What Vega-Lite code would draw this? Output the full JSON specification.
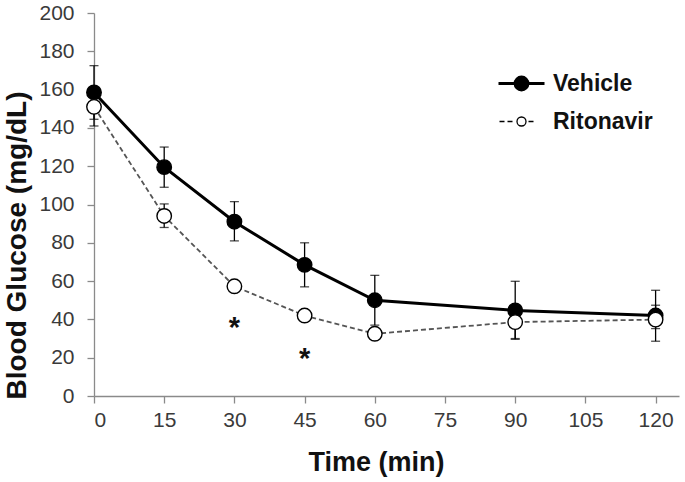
{
  "$schema": "https://vega.github.io/schema/vega-lite/v6.json",
  "width": 585,
  "height": 383,
  "autosize": {"type": "none"},
  "padding": {"left": 94, "top": 13, "right": 6, "bottom": 86},
  "background": "white",
  "config": {
    "view": {"stroke": null},
    "font": "Liberation Sans",
    "axis": {
      "grid": false,
      "domainColor": "#8a8a8a",
      "tickColor": "#8a8a8a",
      "domainWidth": 1.3,
      "tickWidth": 1.3,
      "tickSize": 7,
      "labelColor": "#3a3a3a",
      "labelFont": "Liberation Sans",
      "labelFontSize": 21,
      "labelOverlap": false,
      "titleFont": "Liberation Sans",
      "titleFontSize": 27,
      "titleFontWeight": "bold",
      "titleColor": "#111111"
    },
    "legend": {
      "labelFont": "Liberation Sans",
      "labelFontSize": 23,
      "labelFontWeight": "bold",
      "labelColor": "#111111"
    }
  },
  "datasets": {
    "glucose": [
      {"series": "Vehicle", "time": 0, "mean": 158.5, "lo": 144.5, "hi": 172.5},
      {"series": "Vehicle", "time": 15, "mean": 119.5, "lo": 109, "hi": 130},
      {"series": "Vehicle", "time": 30, "mean": 91, "lo": 81, "hi": 101.5},
      {"series": "Vehicle", "time": 45, "mean": 68.5, "lo": 57, "hi": 80},
      {"series": "Vehicle", "time": 60, "mean": 50, "lo": 37, "hi": 63},
      {"series": "Vehicle", "time": 90, "mean": 44.7, "lo": 29.6, "hi": 59.9},
      {"series": "Vehicle", "time": 120, "mean": 42, "lo": 28.6, "hi": 55.2},
      {"series": "Ritonavir", "time": 0, "mean": 151, "lo": 141, "hi": 161},
      {"series": "Ritonavir", "time": 15, "mean": 94, "lo": 88, "hi": 100.3},
      {"series": "Ritonavir", "time": 30, "mean": 57.3, "lo": 54.5, "hi": 60},
      {"series": "Ritonavir", "time": 45, "mean": 42, "lo": 39.5, "hi": 44.5},
      {"series": "Ritonavir", "time": 60, "mean": 32.5, "lo": 30, "hi": 35},
      {"series": "Ritonavir", "time": 90, "mean": 38.6, "lo": 30, "hi": 47},
      {"series": "Ritonavir", "time": 120, "mean": 39.9, "lo": 35.2, "hi": 47.4}
    ],
    "stars": [
      {"time": 30, "y": 39.5, "label": "*"},
      {"time": 45, "y": 23.4, "label": "*"}
    ]
  },
  "layer": [
    {
      "data": {"name": "glucose"},
      "mark": {"type": "errorbar", "ticks": {"size": 9}, "thickness": 1.3, "color": "black"},
      "encoding": {
        "x": {"field": "time", "type": "quantitative", "scale": {"domain": [0, 125], "nice": false}, "axis": {"values": [0, 15, 30, 45, 60, 75, 90, 105, 120], "title": "Time (min)", "titleX": 282, "titlePadding": 19, "labelPadding": 6}},
        "y": {"field": "lo", "type": "quantitative", "scale": {"domain": [0, 200], "nice": false}, "axis": {"values": [0, 20, 40, 60, 80, 100, 120, 140, 160, 180, 200], "title": "Blood Glucose (mg/dL)", "titleY": 232, "titleFontSize": 28, "labelPadding": 13, "titlePadding": 7}},
        "y2": {"field": "hi"}
      }
    },
    {
      "data": {"name": "glucose"},
      "transform": [{"filter": "datum.series === 'Ritonavir'"}],
      "mark": {"type": "line", "color": "#555555", "strokeWidth": 1.8, "strokeDash": [5, 3]},
      "encoding": {
        "x": {"field": "time", "type": "quantitative", "scale": {"domain": [0, 125], "nice": false}, "axis": {"values": [0, 15, 30, 45, 60, 75, 90, 105, 120], "title": "Time (min)", "titleX": 282, "titlePadding": 19, "labelPadding": 6}},
        "y": {"field": "mean", "type": "quantitative", "scale": {"domain": [0, 200], "nice": false}, "axis": {"values": [0, 20, 40, 60, 80, 100, 120, 140, 160, 180, 200], "title": "Blood Glucose (mg/dL)", "titleY": 232, "titleFontSize": 28, "labelPadding": 13, "titlePadding": 7}}
      }
    },
    {
      "data": {"name": "glucose"},
      "transform": [{"filter": "datum.series === 'Vehicle'"}],
      "mark": {"type": "line", "color": "black", "strokeWidth": 3},
      "encoding": {
        "x": {"field": "time", "type": "quantitative", "scale": {"domain": [0, 125], "nice": false}, "axis": {"values": [0, 15, 30, 45, 60, 75, 90, 105, 120], "title": "Time (min)", "titleX": 282, "titlePadding": 19, "labelPadding": 6}},
        "y": {"field": "mean", "type": "quantitative", "scale": {"domain": [0, 200], "nice": false}, "axis": {"values": [0, 20, 40, 60, 80, 100, 120, 140, 160, 180, 200], "title": "Blood Glucose (mg/dL)", "titleY": 232, "titleFontSize": 28, "labelPadding": 13, "titlePadding": 7}}
      }
    },
    {
      "data": {"name": "glucose"},
      "mark": {"type": "point", "filled": true, "shape": "circle", "size": 210, "stroke": "black", "strokeWidth": 1.4},
      "encoding": {
        "x": {"field": "time", "type": "quantitative", "scale": {"domain": [0, 125], "nice": false}, "axis": {"values": [0, 15, 30, 45, 60, 75, 90, 105, 120], "title": "Time (min)", "titleX": 282, "titlePadding": 19, "labelPadding": 6}},
        "y": {"field": "mean", "type": "quantitative", "scale": {"domain": [0, 200], "nice": false}, "axis": {"values": [0, 20, 40, 60, 80, 100, 120, 140, 160, 180, 200], "title": "Blood Glucose (mg/dL)", "titleY": 232, "titleFontSize": 28, "labelPadding": 13, "titlePadding": 7}},
        "fill": {
          "field": "series",
          "type": "nominal",
          "scale": {"domain": ["Vehicle", "Ritonavir"], "range": ["black", "white"]},
          "legend": {
            "title": null,
            "values": ["Vehicle"],
            "orient": "none",
            "legendX": 416,
            "legendY": 59,
            "symbolSize": 400,
            "symbolType": "M-2.3,0H-0.65M0.65,0H2.3M-0.65,0A0.65,0.65 0 1,0 0.65,0A0.65,0.65 0 1,0 -0.65,0Z",
            "symbolStrokeColor": "black",
            "symbolStrokeWidth": 2.8,
            "symbolOpacity": 1,
            "labelOffset": 20
          }
        },
        "opacity": {
          "field": "series",
          "type": "nominal",
          "scale": {"domain": ["Ritonavir", "Vehicle"], "range": [1, 1]},
          "legend": {
            "title": null,
            "values": ["Ritonavir"],
            "orient": "none",
            "legendX": 416,
            "legendY": 97,
            "symbolSize": 400,
            "symbolType": "M-2.2,0H-1.7M-1.4,0H-0.9M-0.45,0A0.45,0.45 0 1,0 0.45,0A0.45,0.45 0 1,0 -0.45,0ZM0.7,0H1.2",
            "symbolFillColor": "white",
            "symbolStrokeColor": "black",
            "symbolStrokeWidth": 1.3,
            "symbolOpacity": 1,
            "labelOffset": 20
          }
        }
      }
    },
    {
      "data": {"name": "stars"},
      "mark": {"type": "text", "font": "Liberation Sans", "fontSize": 29, "fontWeight": "bold", "baseline": "middle", "dy": 8, "color": "#111111"},
      "encoding": {
        "x": {"field": "time", "type": "quantitative", "scale": {"domain": [0, 125], "nice": false}, "axis": {"values": [0, 15, 30, 45, 60, 75, 90, 105, 120], "title": "Time (min)", "titleX": 282, "titlePadding": 19, "labelPadding": 6}},
        "y": {"field": "y", "type": "quantitative", "scale": {"domain": [0, 200], "nice": false}, "axis": {"values": [0, 20, 40, 60, 80, 100, 120, 140, 160, 180, 200], "title": "Blood Glucose (mg/dL)", "titleY": 232, "titleFontSize": 28, "labelPadding": 13, "titlePadding": 7}},
        "text": {"field": "label"}
      }
    }
  ]
}
